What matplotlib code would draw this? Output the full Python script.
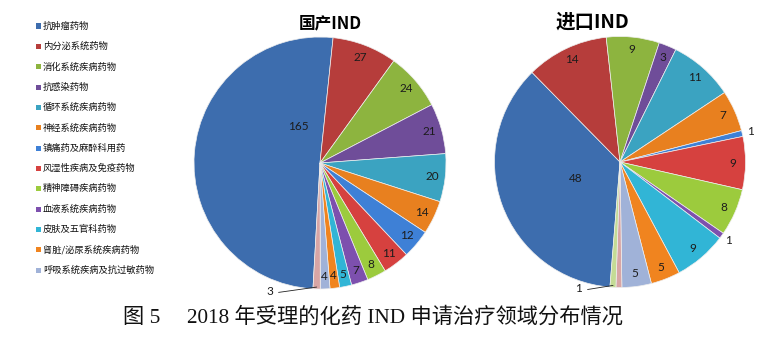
#!/usr/bin/env python3
"""
Two pies: domestic vs imported chemical-drug IND applications by therapy area (2018).
"""

import matplotlib.pyplot as plt
import numpy as np
from matplotlib.patches import Rectangle

W, H = 773, 354

categories = ['抗肿瘤药物', '内分泌系统药物', '消化系统疾病药物', '抗感染药物',
              '循环系统疾病药物', '神经系统疾病药物', '镇痛药及麻醉科用药',
              '风湿性疾病及免疫药物', '精神障碍疾病药物', '血液系统疾病药物',
              '皮肤及五官科药物', '肾脏/泌尿系统疾病药物', '呼吸系统疾病及抗过敏药物']

domestic = [165, 27, 24, 21, 20, 14, 12, 11, 8, 7, 5, 4, 4, 3]
imported = [48, 14, 9, 3, 11, 7, 1, 9, 8, 1, 9, 5, 5, 1, 1]

palette = ['#3D6DAE', '#B63D3B', '#8DB43F', '#6F4D99', '#3BA3C1', '#E8801F',
           '#3E80D6', '#D6413F', '#9CCB3D', '#7D50AE', '#31B5D6', '#F0841F',
           '#A0B2D8', '#D8A5A5', '#C4DB95']

LABEL_FONT = dict(family='Lato', fontsize=8.5, color='#1c1c1c')


def px(x, y):
    return x / W, 1 - y / H


def pie_axes(cx, cy, r):
    ax = fig.add_axes([(cx - r) / W, 1 - (cy + r) / H, 2 * r / W, 2 * r / H])
    return ax


def mid_xy(w, r):
    a = np.deg2rad((w.theta1 + w.theta2) / 2)
    return r * np.cos(a), r * np.sin(a)


def draw_pie(ax, values, start, big_pos, outside=(), hidden=(), leader=None):
    wedges, _ = ax.pie(values, colors=palette[:len(values)], startangle=start,
                       counterclock=False, radius=1,
                       wedgeprops=dict(edgecolor='#eeeeee', linewidth=0.5))
    ax.set_xlim(-1, 1)
    ax.set_ylim(-1, 1)
    ax.set_aspect('equal')
    for i, (w, v) in enumerate(zip(wedges, values)):
        if i in hidden:
            continue
        if i == 0:
            x, y = big_pos
        elif leader is not None and i == leader[0]:
            ex, ey = mid_xy(w, 0.985)
            ax.annotate(str(v), xy=(ex, ey), xytext=leader[1],
                        ha='center', va='center',
                        arrowprops=dict(arrowstyle='-', lw=0.6, color='#222222',
                                        shrinkA=2, shrinkB=0,
                                        relpos=(1.0, 0.35)),
                        **LABEL_FONT)
            continue
        elif i in outside:
            x, y = mid_xy(w, 1.07)
        else:
            x, y = mid_xy(w, 0.9)
        ax.text(x, y, str(v), ha='center', va='center', **LABEL_FONT)
    return wedges


fig = plt.figure(figsize=(W / 100, H / 100), dpi=100)

# domestic pie
ax1 = pie_axes(320, 163, 126)
a = np.deg2rad(121)
draw_pie(ax1, domestic, -93.2, (0.34 * np.cos(a), 0.34 * np.sin(a)),
         leader=(13, (-0.40, -1.02)))

# imported pie
ax2 = pie_axes(620, 162, 125.5)
draw_pie(ax2, imported, -94.6, (-0.35, -0.13), outside=(6, 9), hidden=(13,),
         leader=(14, (-0.33, -1.01)))

fig.text(*px(330, 23), '国产IND', ha='center', va='center', fontsize=12,
         fontweight='bold', family=['Noto Sans CJK SC', 'DejaVu Sans'])
fig.text(*px(592, 22), '进口IND', ha='center', va='center', fontsize=14,
         fontweight='bold', family=['Noto Sans CJK SC', 'DejaVu Sans'])

# legend down the left side
for i, name in enumerate(categories):
    y = 26 + 20.35 * i
    x0, y0 = px(36, y + 2.5)
    fig.add_artist(Rectangle((x0, y0), 5 / W, 5 / H, transform=fig.transFigure,
                             facecolor=palette[i], edgecolor='none'))
    fig.text(*px(43, y), name, ha='left', va='center', fontsize=6.7,
             family=['Noto Sans CJK SC', 'DejaVu Sans'], color='#111111')

fig.text(*px(123, 317), '图 5\u3000 2018 年受理的化药 IND 申请治疗领域分布情况',
         ha='left', va='center', fontsize=15.3,
         family=['Liberation Serif', 'Noto Sans CJK SC'], color='#111111')

fig.savefig('out.png', dpi=100)
